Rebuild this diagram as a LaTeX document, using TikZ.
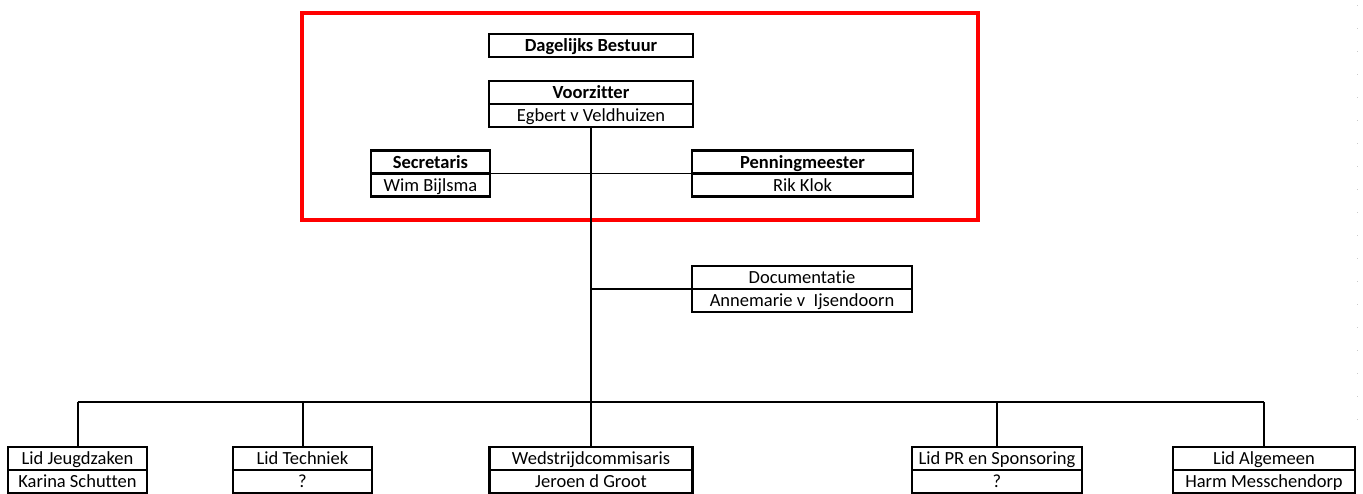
\documentclass[tikz,border=0pt]{standalone}
\usepackage{fontspec}
\setmainfont{Carlito}[Ligatures=NoCommon]
\usetikzlibrary{positioning}

\tikzset{
    rol/.style={draw,rectangle,line width=2.8pt,outer sep=0pt,inner sep=0pt,
                minimum height=23pt,text height=14pt,text depth=1.5pt,
                font=\fontsize{18.5}{21}\selectfont},
    lijn/.style={draw,line width=2pt}
}

\begin{document}
\begin{tikzpicture}[x=1pt,y=-1pt]
\useasboundingbox (0,0) rectangle (1363,493);

% rand van het dagelijks bestuur
\draw[red,line width=3.8pt] (302,13) rectangle (978,220);

\begin{scope}[every node/.style={rol}]
    \node[minimum width=204pt] (db) at (591,45.5) {\bfseries Dagelijks Bestuur};
    \node[minimum width=204pt] (voorz) at (591,92.5) {\bfseries Voorzitter};
    \node[minimum width=204pt,below=0pt of voorz] (voorz_p) {Egbert v Veldhuizen};
    \node[minimum width=119pt] (secr) at (430.5,162) {\bfseries Secretaris};
    \node[minimum width=119pt,below=0pt of secr] (secr_p) {Wim Bijlsma};
    \node[minimum width=221pt] (penn) at (802.5,162) {\bfseries Penningmeester};
    \node[minimum width=221pt,below=0pt of penn] (penn_p) {Rik Klok};
    \node[minimum width=220pt] (docu) at (802,277.5) {Documentatie};
    \node[minimum width=220pt,below=0pt of docu] (docu_p) {Annemarie v\ \ Ijsendoorn};
    % commissieleden
    \node[minimum width=139pt] (jeugd) at (77.5,458.5) {Lid Jeugdzaken};
    \node[minimum width=139pt,below=0pt of jeugd] (jeugd_p) {Karina Schutten};
    \node[minimum width=139pt] (techn) at (302.5,458.5) {Lid Techniek};
    \node[minimum width=139pt,below=0pt of techn] (techn_p) {?};
    \node[minimum width=203pt] (wedstr) at (591,458.5) {Wedstrijdcommisaris};
    \node[minimum width=203pt,below=0pt of wedstr] (wedstr_p) {Jeroen d Groot};
    \node[minimum width=170pt] (pr) at (997,458.5) {Lid PR en Sponsoring};
    \node[minimum width=170pt,below=0pt of pr] (pr_p) {?};
    \node[minimum width=182pt] (algem) at (1264,458.5) {Lid Algemeen};
    \node[minimum width=182pt,below=0pt of algem] (algem_p) {Harm Messchendorp};
\end{scope}

\coordinate (bus) at (0,402);

\begin{scope}[every edge/.style={lijn}]
    \path (secr.south east) edge[line width=1.5pt] (penn.south west);
    \path (voorz_p.south) edge (wedstr.north);
    \path (voorz_p.south |- docu.south) edge (docu.south west);
    \path (jeugd.north) edge (jeugd.north |- bus);
    \path (techn.north) edge (techn.north |- bus);
    \path (pr.north) edge (pr.north |- bus);
    \path (algem.north) edge (algem.north |- bus);
    \path (jeugd.north |- bus) edge (algem.north |- bus);
\end{scope}

% pagina-einde
\draw[gray!40,line width=1pt,dash pattern=on 1pt off 22pt] (1357,5) -- (1357,440);
\end{tikzpicture}
\end{document}
